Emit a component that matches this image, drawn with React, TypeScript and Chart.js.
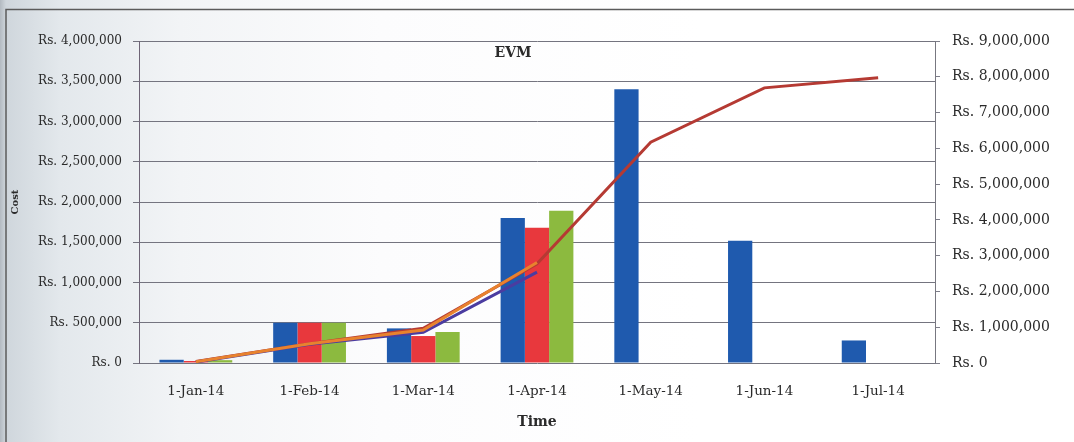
import { useEffect, useRef } from "react";
import { Chart, registerables } from "chart.js";

Chart.register(...registerables);

const categories = ["1-Jan-14", "1-Feb-14", "1-Mar-14", "1-Apr-14", "1-May-14", "1-Jun-14", "1-Jul-14"];
const plannedBars = [40000, 500000, 430000, 1800000, 3400000, 1520000, 280000];
const actualBars = [25000, 500000, 335000, 1680000, null, null, null];
const earnedBars = [35000, 500000, 385000, 1890000, null, null, null];
const cumPlanned = [40000, 540000, 970000, 2770000, 6170000, 7690000, 7970000];
const cumActual = [25000, 525000, 860000, 2540000, null, null, null];
const cumEarned = [35000, 535000, 920000, 2810000, null, null, null];
const chartTitle = "EVM";
const leftAxisTitle = "Cost";
const bottomAxisTitle = "Time";

const fmt = (v: number) => "Rs. " + Number(v).toLocaleString("en-US");
const textColor = "#2a2a2a";

const decorPlugin = {
  id: "decor",
  beforeDraw(chart: any) {
    const ctx = chart.ctx;
    ctx.save();
    ctx.strokeStyle = "#5b5b5b";
    ctx.lineWidth = 1.5;
    ctx.beginPath();
    ctx.moveTo(6, 442);
    ctx.lineTo(6, 9.5);
    ctx.lineTo(1074, 9.5);
    ctx.stroke();
    ctx.restore();
  },
  afterDraw(chart: any) {
    const ctx = chart.ctx;
    ctx.save();
    ctx.fillStyle = textColor;
    ctx.font = "bold 14px 'DejaVu Serif'";
    ctx.textAlign = "center";
    ctx.textBaseline = "middle";
    ctx.fillText(chartTitle, 513, 53);
    ctx.restore();
  },
};

export default function App() {
  const ref = useRef<HTMLCanvasElement | null>(null);
  useEffect(() => {
    if (!ref.current) return;
    const chart = new Chart(ref.current, {
      type: "bar",
      data: {
        labels: categories,
        datasets: [
          { type: "line", label: "Cumulative EV", data: cumEarned, borderColor: "#e8822e", borderWidth: 3, pointRadius: 0, yAxisID: "y1", order: 0 } as any,
          { type: "line", label: "Cumulative AC", data: cumActual, borderColor: "#4b3ca0", borderWidth: 3, pointRadius: 0, yAxisID: "y1", order: 1 } as any,
          { type: "line", label: "Cumulative PV", data: cumPlanned, borderColor: "#b53a33", borderWidth: 3, pointRadius: 0, yAxisID: "y1", order: 2 } as any,
          { label: "PV", data: plannedBars, backgroundColor: "#1f5aae", yAxisID: "y", order: 10 },
          { label: "AC", data: actualBars, backgroundColor: "#e8383d", yAxisID: "y", order: 11 },
          { label: "EV", data: earnedBars, backgroundColor: "#8cba3f", yAxisID: "y", order: 12 },
        ],
      },
      options: {
        animation: false,
        responsive: false,
        devicePixelRatio: 1,
        layout: { padding: { top: 41, left: 0, right: 0, bottom: 0 } },
        datasets: { bar: { categoryPercentage: 0.64, barPercentage: 1.0 } },
        plugins: { legend: { display: false }, tooltip: { enabled: false }, title: { display: false } },
        scales: {
          x: {
            grid: { display: false },
            border: { display: false },
            ticks: { color: textColor, font: { family: "'DejaVu Serif'", size: 13.5 }, padding: 12, maxRotation: 0 },
            title: { display: true, text: bottomAxisTitle, color: textColor, font: { family: "'DejaVu Serif'", size: 14, weight: "bold" }, padding: { top: 0, bottom: 11 } },
            afterFit: (s: any) => { s.height = 79; },
          },
          y: {
            position: "left",
            min: 0,
            max: 4000000,
            ticks: { stepSize: 500000, callback: (v: any) => fmt(v), color: textColor, font: { family: "'DejaVu Serif'", size: 12 }, padding: 11 },
            grid: { color: "#74747f", lineWidth: 1, tickLength: 6 },
            border: { display: true, color: "#6e6476", width: 1 },
            title: { display: true, text: leftAxisTitle, color: textColor, font: { family: "'DejaVu Serif'", size: 10, weight: "bold" }, padding: { top: 9, bottom: 0 } },
            afterFit: (s: any) => { s.width = 139; },
          },
          y1: {
            position: "right",
            min: 0,
            max: 9000000,
            ticks: { stepSize: 1000000, callback: (v: any) => fmt(v), color: textColor, font: { family: "'DejaVu Serif'", size: 14 }, padding: 12 },
            grid: { drawOnChartArea: false, color: "#7e7e8a", tickLength: 5 },
            border: { display: true, color: "#777780", width: 1 },
            afterFit: (s: any) => { s.width = 139; },
          },
        },
      },
      plugins: [decorPlugin],
    } as any);
    return () => chart.destroy();
  }, []);

  return (
    <div
      style={{
        position: "fixed",
        left: 0,
        top: 0,
        width: 1074,
        height: 442,
        background: "linear-gradient(to right, #b3bac1 0px, #cfd6dc 6px, #e3e8ec 60px, #f2f4f6 180px, #fcfcfd 380px, #ffffff 700px)",
      }}
    >
      <canvas ref={ref} width={1074} height={442} style={{ display: "block", width: 1074, height: 442 }} />
    </div>
  );
}
